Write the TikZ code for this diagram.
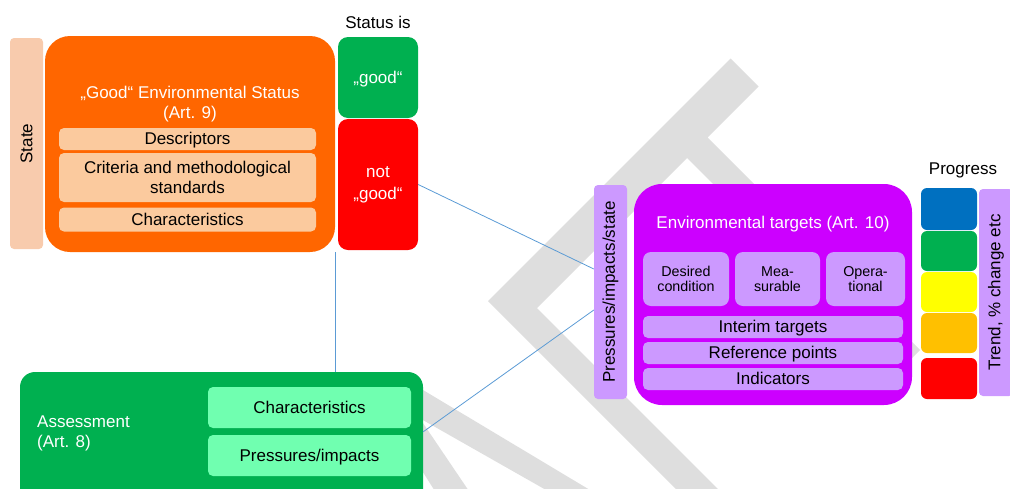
\documentclass[tikz,border=0pt]{standalone}
\usepackage{fontspec}
\setmainfont{Liberation Sans}
\usetikzlibrary{positioning,calc}
\definecolor{gesorange}{RGB}{255,102,0}
\definecolor{geslight}{RGB}{251,202,158}
\definecolor{statepeach}{RGB}{248,203,173}
\definecolor{msfdgreen}{RGB}{0,176,80}
\definecolor{msfdred}{RGB}{255,0,0}
\definecolor{msfdblue}{RGB}{0,112,192}
\definecolor{msfdyellow}{RGB}{255,255,0}
\definecolor{msfdamber}{RGB}{255,192,0}
\definecolor{etpurple}{RGB}{204,0,255}
\definecolor{etlight}{RGB}{204,153,255}
\definecolor{asslight}{RGB}{112,255,176}
\definecolor{linkblue}{RGB}{91,155,213}
\definecolor{wmgray}{RGB}{222,222,222}
\newcommand{\bigtxt}{\fontsize{17}{20}\selectfont}
\newcommand{\smalltxt}{\fontsize{14.3}{15.3}\selectfont}

\begin{document}
\begin{tikzpicture}
[x=1pt,y=-1pt,
box/.style={inner sep=0pt,align=center,font=\bigtxt},
oneline/.style={text height=15.4pt,text depth=3.6pt},
big/.style={box,rounded corners=25pt},
sub/.style={box,rounded corners=5pt,text=black},
side/.style={box,rounded corners=4pt,rotate=90,text=black},
stat/.style={box,rounded corners=10pt,text=white,minimum width=80pt},
prog/.style={inner sep=0pt,rounded corners=6pt,minimum width=56pt},
edge/.style={draw=linkblue,line width=0.8pt},
wm/.style={fill=wmgray}]
\useasboundingbox (0,0) rectangle (1010,488);
\clip (0,0) rectangle (1010,488);
%% Watermark
\fill[wm] (488,301) -- (730.5,58.5) -- (758.5,86.5) -- (707.5,137.5) -- (920,350)
  -- (899.5,370.5) -- (687,158) -- (537,308) -- (749.5,520.5) -- (728.5,541.5) -- cycle;
\fill[wm] (408,381) -- (620,508) -- (620,532) -- (388.5,400.5) -- cycle;
\fill[wm] (382,407) -- (400,389) -- (475,500) -- (440.5,500) -- cycle;
%%%%%%%%%%%%%%%%%%%%%%%%%%%%
%% State / GES
\node[side,fill=statepeach,minimum width=211pt,minimum height=33pt] (state) at (26.5,143.5) {State};
\node[big,fill=gesorange,minimum width=290pt,minimum height=216pt] (ges) at (190,144) {};
\node[box,text=white] (gestitle) at (190,104) {„Good“ Environmental Status\\(Art. 9)};
\node[sub,oneline,fill=geslight,minimum width=257pt,minimum height=22pt] (desc) at (187.5,139) {Descriptors};
\node[sub,fill=geslight,minimum width=257pt,minimum height=49pt] (crit) at (187.5,177.5) {Criteria and methodological\\standards};
\node[sub,oneline,fill=geslight,minimum width=257pt,minimum height=24pt] (char) at (187.5,219.5) {Characteristics};
% status
\node[box,oneline] (statusis) at (378,23) {Status is};
\node[stat,oneline,fill=msfdgreen,minimum height=81pt] (good) at (378,77.5) {„good“};
\node[stat,font={\fontsize{17}{22}\selectfont},fill=msfdred,minimum height=131pt] (notgood) at (378,184.5) {not\\„good“};
%%%%%%%%%%%%%%%%%%%%%%%%%%%%
%% Environmental targets
\node[side,fill=etlight,minimum width=214pt,minimum height=33pt] (pis) at (610.5,292) {Pressures/impacts/state};
\node[big,rounded corners=28pt,fill=etpurple,minimum width=278pt,minimum height=221pt] (et) at (773,294.5) {};
\node[box,oneline,text=white] (ettitle) at (773,223) {Environmental targets (Art. 10)};
\node[sub,fill=etlight,font=\smalltxt,rounded corners=8pt,minimum width=86pt,minimum height=54pt] (desired) at (686,279) {Desired\\condition};
\node[sub,fill=etlight,font=\smalltxt,rounded corners=8pt,minimum width=85pt,minimum height=54pt] (meas) at (777.5,279) {Mea-\\surable};
\node[sub,fill=etlight,font=\smalltxt,rounded corners=8pt,minimum width=79pt,minimum height=54pt] (oper) at (865.5,279) {Opera-\\tional};
\node[sub,oneline,fill=etlight,minimum width=260pt,minimum height=22pt] (interim) at (773,327) {Interim targets};
\node[sub,oneline,fill=etlight,minimum width=260pt,minimum height=22pt] (refpts) at (773,353) {Reference points};
\node[sub,oneline,fill=etlight,minimum width=260pt,minimum height=22pt] (indic) at (773,379) {Indicators};
% progress
\node[box,oneline] (progress) at (963,169) {Progress};
\node[prog,fill=msfdblue,minimum height=42pt] (p1) at (949,209) {};
\node[prog,fill=msfdgreen,minimum height=40pt] (p2) at (949,251) {};
\node[prog,fill=msfdyellow,minimum height=40pt] (p3) at (949,292) {};
\node[prog,fill=msfdamber,minimum height=40pt] (p4) at (949,333) {};
\node[prog,fill=msfdred,minimum height=41pt] (p5) at (949,378.5) {};
\node[side,fill=etlight,minimum width=207pt,minimum height=34pt] (trend) at (996,292.5) {Trend, \% change etc};
%%%%%%%%%%%%%%%%%%%%%%%%%%%%
%% Assessment
\node[box,rounded corners=15pt,fill=msfdgreen,minimum width=403pt,minimum height=148pt] (ass) at (221.5,446) {};
\node[box,text=white,align=left,anchor=west] (asstitle) at (37,433) {Assessment\\(Art. 8)};
\node[sub,oneline,fill=asslight,minimum width=203pt,minimum height=41pt] (achar) at (309.5,407.5) {Characteristics};
\node[sub,oneline,fill=asslight,minimum width=203pt,minimum height=41pt] (apress) at (309.5,455.5) {Pressures/impacts};
%% links
\draw[edge] (ges.south east) -- (ges.south east |- ass.north);
\draw[edge] (notgood.east) -- ($(pis.north)+(0,-23)$);
\draw[edge] ($(ass.north east)+(0,60)$) -- ($(pis.north)+(0,18)$);
\end{tikzpicture}
\end{document}
